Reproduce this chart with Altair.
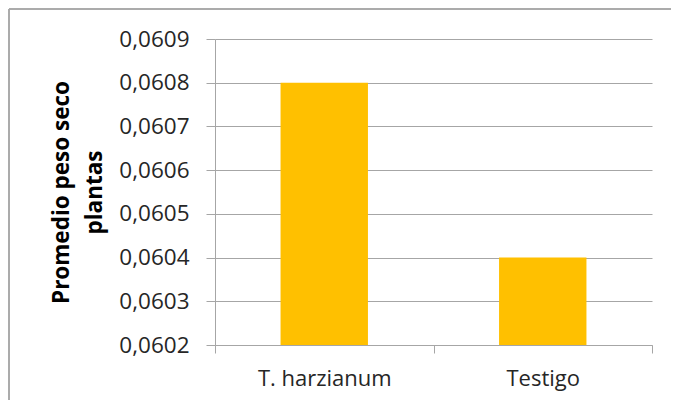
import altair as alt
import pandas as pd

categories = ["T. harzianum", "Testigo"]
values = [0.0608, 0.0604]
y_ticks = [0.0602, 0.0603, 0.0604, 0.0605, 0.0606, 0.0607, 0.0608, 0.0609]

df = pd.DataFrame({"cat": categories, "val": values})

FONT = "Open Sans"

bars = alt.Chart(df).mark_bar(color="#FFC000", clip=True, width=alt.RelativeBandSize(0.4)).encode(
    x=alt.X("cat:N", sort=categories, title=None,
            scale=alt.Scale(paddingInner=0, paddingOuter=0),
            axis=alt.Axis(labelAngle=0, labelFontSize=22, labelFont=FONT,
                          labelColor="#262626", labelPadding=15,
                          tickBand="extent", tickSize=8, tickColor="#A6A6A6",
                          domainColor="#A6A6A6", grid=False)),
    y=alt.Y("val:Q", title=["Promedio peso seco", "plantas"],
            scale=alt.Scale(domain=[0.0602, 0.0609], zero=False, nice=False),
            axis=alt.Axis(values=y_ticks,
                          labelExpr="replace(format(datum.value, '.4f'), '.', ',')",
                          labelFontSize=22.5, labelFont=FONT, labelColor="#262626",
                          labelPadding=17, tickSize=9, tickColor="#A6A6A6",
                          domainColor="#A6A6A6", gridColor="#A6A6A6",
                          titleFontSize=22.5, titleFont=FONT, titleFontWeight="bold",
                          titleColor="#000000", titlePadding=12, titleLineHeight=33)),
)

frame_top = alt.Chart(df).mark_rule(stroke="#A6A6A6", strokeWidth=1.5).encode(
    x=alt.value(-206), x2=alt.value(463), y=alt.value(-30)
)
frame_left = alt.Chart(df).mark_rule(stroke="#A6A6A6", strokeWidth=1.5).encode(
    x=alt.value(-206), y=alt.value(-30), y2=alt.value(420)
)

chart = alt.layer(frame_top, frame_left, bars).properties(
    width=437, height=306,
    autosize=alt.AutoSizeParams(type="none"),
    padding={"left": 207, "top": 31, "right": 19, "bottom": 55},
).configure_view(stroke=None)

chart.save("out.html", embed_options={"renderer": "svg", "actions": False})
